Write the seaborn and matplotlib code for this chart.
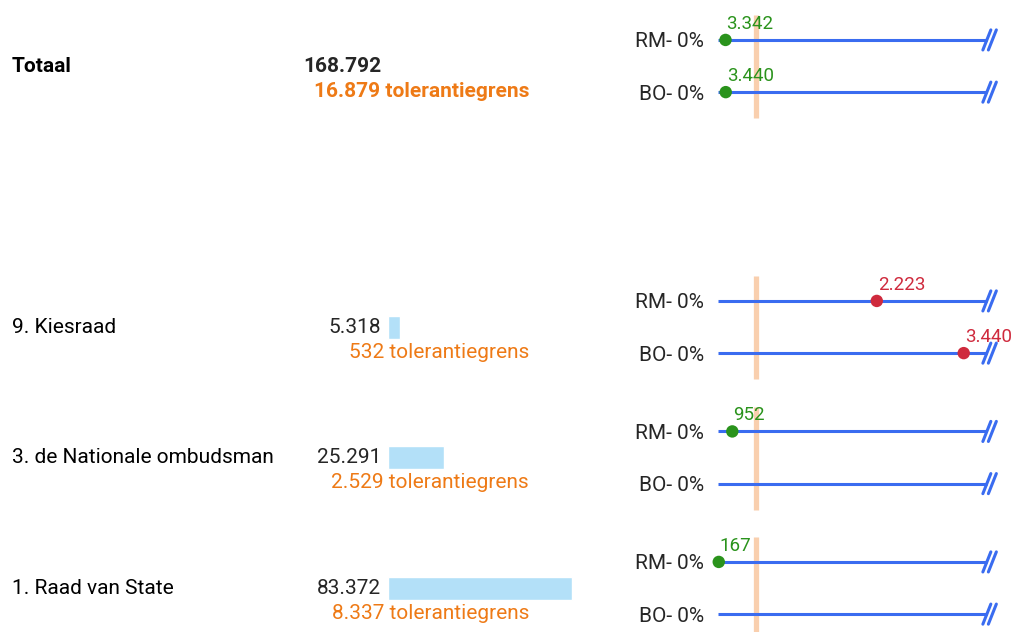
import numpy as np
import pandas as pd
import seaborn as sns
from matplotlib import pyplot as plt
from matplotlib import transforms

# rows of the overview, values as shown (dutch thousands separator)
names = ["Totaal", "9. Kiesraad", "3. de Nationale ombudsman", "1. Raad van State"]
totals = [168792, 5318, 25291, 83372]
tolerances = [16879, 532, 2529, 8337]
rm_values = [3342, 2223, 952, 167]
bo_values = [3440, 3440, None, None]
row_pos = [0, 2, 3, 4]
series_labels = ["RM- 0%", "BO- 0%"]

GREEN = "#2a931c"
RED = "#cf2a3d"
BLUE = "#3a6cf0"
ORANGE_TXT = "#ee7a16"
ORANGE_LINE = "#f9cfae"
BAR_BLUE = "#b3e0f8"


def nl(v):
    return f"{v:,}".replace(",", ".")


sns.set_theme(style="white")
plt.rcParams["font.family"] = ["Roboto", "DejaVu Sans"]

W, H = 1014, 632
fig = plt.figure(figsize=(W / 100, H / 100), dpi=100)

ylim = (4.337, -0.506)
FS = 15

# left part: totals with bar
ax_bar = fig.add_axes([388 / W, 0, 220 / W, 1])
bar_df = pd.DataFrame({"row": row_pos[1:], "total": totals[1:]})
sns.barplot(data=bar_df, x="total", y="row", orient="h", native_scale=True,
            width=0.176, color=BAR_BLUE, saturation=1, ax=ax_bar)
ax_bar.set_xlim(0, 220 * 83372 / 184)
ax_bar.set_ylim(*ylim)
ax_bar.axis("off")

label_tr = transforms.blended_transform_factory(fig.transFigure, ax_bar.transData)
for i, (name, tot, tol, r) in enumerate(zip(names, totals, tolerances, row_pos)):
    weight = "bold" if i == 0 else "normal"
    ax_bar.text(12 / W, r, name, transform=label_tr, ha="left", va="center",
                fontsize=FS, fontweight=weight, color="black")
    ax_bar.annotate(nl(tot), xy=(0, r), xytext=(-7, 0), textcoords="offset pixels",
                    ha="right", va="center", fontsize=FS, fontweight=weight)
    ax_bar.annotate(f"{nl(tol)} tolerantiegrens", xy=(0, r), xytext=(141, -25),
                    textcoords="offset pixels", ha="right", va="center",
                    fontsize=FS, fontweight=weight, color=ORANGE_TXT)

# right part: RM / BO relative to tolerance
ax_r = fig.add_axes([712 / W, 0, 298 / W, 1])
line_end = 7.07

pts = []
yticks = []
for r, tol, rm, bo in zip(row_pos, tolerances, rm_values, bo_values):
    ax_r.vlines(1, r - 0.39, r + 0.40, color=ORANGE_LINE, lw=3.8, zorder=1)
    for off, val, lab in [(-0.2, rm, series_labels[0]), (0.2, bo, series_labels[1])]:
        y = r + off
        yticks.append((y, lab))
        ax_r.plot([0, line_end], [y, y], color=BLUE, lw=2.2, zorder=2,
                  solid_capstyle="butt")
        for dx in (0, 0.145):
            ax_r.plot([line_end - 0.1 + dx, line_end + 0.11 + dx],
                      [y + 0.077, y - 0.077], color=BLUE, lw=2.2, zorder=2)
        if val is not None:
            pts.append({"ratio": val / tol, "y": y, "val": val,
                        "status": "ok" if val <= tol else "over"})

pts_df = pd.DataFrame(pts)
sns.scatterplot(data=pts_df, x="ratio", y="y", hue="status",
                palette={"ok": GREEN, "over": RED}, s=80, linewidth=0,
                legend=False, zorder=3, ax=ax_r)
for _, p in pts_df.iterrows():
    ax_r.annotate(nl(int(p["val"])), xy=(p["ratio"], p["y"]), xytext=(1, 11),
                  textcoords="offset pixels", ha="left", va="baseline",
                  fontsize=13.5, color=GREEN if p["status"] == "ok" else RED)

ax_r.set_xlim(-6 / 38, 298 / 38 - 6 / 38)
ax_r.set_ylim(*ylim)
ax_r.set_xticks([])
ax_r.set_yticks([t[0] for t in yticks])
ax_r.set_yticklabels([t[1] for t in yticks], fontsize=FS)
ax_r.tick_params(axis="y", length=0, pad=5.8)
ax_r.set_xlabel("")
ax_r.set_ylabel("")
for s in ax_r.spines.values():
    s.set_visible(False)
ax_r.patch.set_alpha(0)

fig.savefig("out.png", dpi=100)
